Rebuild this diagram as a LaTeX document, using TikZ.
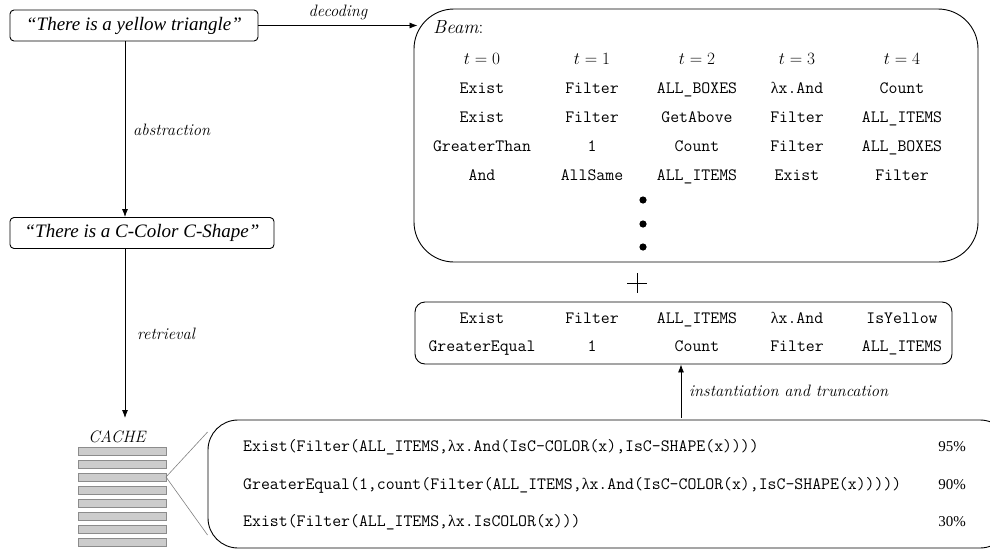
\documentclass[tikz,border=0pt]{standalone}
\usepackage{fontspec}
\newfontfamily\tnr{Liberation Serif}
\newcommand\lam{{\tnr\fontsize{16}{18}\selectfont λ}}
\usetikzlibrary{arrows.meta,calc}
\begin{document}
\begin{tikzpicture}[x=1pt,y=-1pt,
  sbox/.style={draw, rounded corners=4pt, line width=0.9pt, inner sep=0pt, font=\tnr\itshape\fontsize{19}{21}\selectfont},
  bigbox/.style={draw, line width=0.9pt, inner sep=0pt},
  mono/.style={font=\ttfamily\fontsize{17.3}{19}\selectfont, inner sep=0pt, anchor=base},
  tlab/.style={font=\fontsize{17}{19}\selectfont, inner sep=0pt, anchor=base},
  lbl/.style={font=\itshape\fontsize{16.5}{18}\selectfont, inner sep=0pt},
  pct/.style={font=\tnr\fontsize{15}{17}\selectfont, inner sep=0pt, anchor=base east},
  arr/.style={-{Latex[length=8pt,width=6pt]}, line width=0.8pt},
  zoomline/.style={draw=gray, line width=0.6pt},
  bar/.style={fill=black!20, draw=black!45, line width=0.5pt},
]
\useasboundingbox (0,0) rectangle (990,549);
\clip (0,0) rectangle (990,549);

% left boxes
\node[sbox, minimum width=248, minimum height=31] (q1) at (134,25.5) {“There is a yellow triangle”};
\node[sbox, minimum width=264, minimum height=31] (q2) at (142,233) {“There is a C-Color C-Shape”};
\coordinate (ax) at (125,0);
\draw[arr] (q1.south -| ax) -- (q2.north -| ax);
\node[lbl, anchor=west] (labs) at (133,130) {abstraction};

% cache
\coordinate (ctop) at (125,418);
\draw[arr] (q2.south -| ax) -- (ctop);
\node[lbl, anchor=west] (lret) at (137,334) {retrieval};
\node[lbl] (cache) at (117,437) {CACHE};
\foreach \k in {0,...,7}{
  \path[bar] (78,{447+13*\k}) rectangle (166,{455+13*\k});
}
\coordinate (cbar) at (166,477);

% beam box
\node[bigbox, rounded corners=40pt, minimum width=564, minimum height=253] (beam) at (696,135.5) {};
\draw[arr] (q1.east) -- ([xshift=4pt]q1.east -| beam.west) node[midway, above=5pt, lbl] (ldec) {decoding};
\node[font=\itshape\fontsize{19}{21}\selectfont, inner sep=0pt, anchor=west] (beamlab) at (433,27) {Beam\upshape:};

\foreach \c/\x in {0/482,1/592,2/697,3/797,4/902}{
  \node[tlab] (t\c) at (\x,64) {$t=\c$};
}
\foreach \r/\y/\a/\b/\cc/\d/\e in {
  1/88/Exist/Filter/ALL\_BOXES/\lam x.And/Count,
  2/117/Exist/Filter/GetAbove/Filter/ALL\_ITEMS,
  3/146/GreaterThan/1/Count/Filter/ALL\_BOXES,
  4/175/And/AllSame/ALL\_ITEMS/Exist/Filter}{
  \node[mono] (b\r a) at (482,\y+5) {\a};
  \node[mono] (b\r b) at (592,\y+5) {\b};
  \node[mono] (b\r c) at (697,\y+5) {\cc};
  \node[mono] (b\r d) at (797,\y+5) {\d};
  \node[mono] (b\r e) at (902,\y+5) {\e};
}
\foreach \y in {200,224,247}{
  \fill (643,\y) circle (3.6);
}

% plus
\draw[line width=0.8pt] (627,283) -- (647,283) (637,273) -- (637,293);

% box 2
\node[bigbox, rounded corners=10pt, minimum width=537, minimum height=62] (cand) at (683.5,333) {};
\foreach \r/\y/\a/\b/\cc/\d/\e in {
  1/318/Exist/Filter/ALL\_ITEMS/\lam x.And/IsYellow,
  2/346/GreaterEqual/1/Count/Filter/ALL\_ITEMS}{
  \node[mono] (c\r a) at (482,\y+5) {\a};
  \node[mono] (c\r b) at (592,\y+5) {\b};
  \node[mono] (c\r c) at (697,\y+5) {\cc};
  \node[mono] (c\r d) at (797,\y+5) {\d};
  \node[mono] (c\r e) at (902,\y+5) {\e};
}

% box 4
\node[bigbox, rounded corners=30pt, minimum width=802, minimum height=128] (prog) at (609,484) {};
\draw[zoomline] (cbar) -- ($(prog.west)+(0,-52)$);
\draw[zoomline] (cbar) -- ($(prog.west)+(0,51)$);
\coordinate (iarr) at (681,418);
\draw[arr] (iarr) -- (iarr |- cand.south);
\node[lbl, anchor=west] (linst) at (689,391) {instantiation and truncation};

\node[mono, anchor=base west] (p1) at (243,451) {Exist(Filter(ALL\_ITEMS,\lam x.And(IsC-COLOR(x),IsC-SHAPE(x))))};
\node[mono, anchor=base west] (p2) at (243,489) {GreaterEqual(1,count(Filter(ALL\_ITEMS,\lam x.And(IsC-COLOR(x),IsC-SHAPE(x)))))};
\node[mono, anchor=base west] (p3) at (243,526) {Exist(Filter(ALL\_ITEMS,\lam x.IsCOLOR(x)))};
\node[pct] (s1) at (966,451) {95\%};
\node[pct] (s2) at (966,489) {90\%};
\node[pct] (s3) at (966,526) {30\%};
\end{tikzpicture}
\end{document}
